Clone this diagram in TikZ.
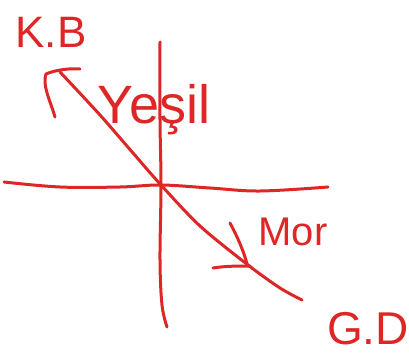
\documentclass[tikz,border=0pt]{standalone}
\usepackage{fontspec}
\setmainfont{Liberation Sans}
\definecolor{penred}{RGB}{222,38,38}
\begin{document}
\begin{tikzpicture}[x=1pt,y=-1pt,
  pen/.style={draw=penred,line width=3pt,line cap=round,line join=round},
  lbl/.style={text=penred,inner sep=0pt,anchor=center}]
\useasboundingbox (0,0) rectangle (409,358);
% axes endpoints
\coordinate (hl) at (4,182);
\coordinate (hr) at (328,188);
\coordinate (vt) at (160,42);
\coordinate (vb) at (167,327);
\coordinate (o) at (161,185);
\coordinate (dtl) at (60,72);
\coordinate (dbr) at (302,300);
% horizontal axis
\draw[pen] plot[smooth,tension=0.6] coordinates {(4,182) (60,187) (120,187) (161,185) (210,188) (260,191) (328,187)};
% vertical axis
\draw[pen] plot[smooth,tension=0.6] coordinates {(160,42) (160,120) (161,185) (160,260) (162,305) (167,327)};
% diagonal
\draw[pen] plot[smooth,tension=0.5] coordinates {(60,72) (100,115) (133,153) (161,185) (200,226) (248,265) (280,288) (302,300)};
% K.B arrowhead
\draw[pen] (55,117) .. controls (50,100) and (42,85) .. (46,74) .. controls (55,70) and (70,68) .. (80,69);
% Mor arrowhead
\draw[pen] (230,223) .. controls (238,238) and (244,252) .. (247,264);
\draw[pen] (213,268) .. controls (225,266) and (238,266) .. (250,266);
% labels
\node[lbl,font=\fontsize{44}{44}\selectfont] (kb) at (51,32) {K.B};
\node[lbl,font=\fontsize{54}{54}\selectfont] (yesil) at (154,110) {Yeşil};
\node[lbl,font=\fontsize{40}{40}\selectfont] (mor) at (293,232) {Mor};
\node[lbl,font=\fontsize{46}{46}\selectfont] (gd) at (368,329) {G.D};
\end{tikzpicture}
\end{document}
